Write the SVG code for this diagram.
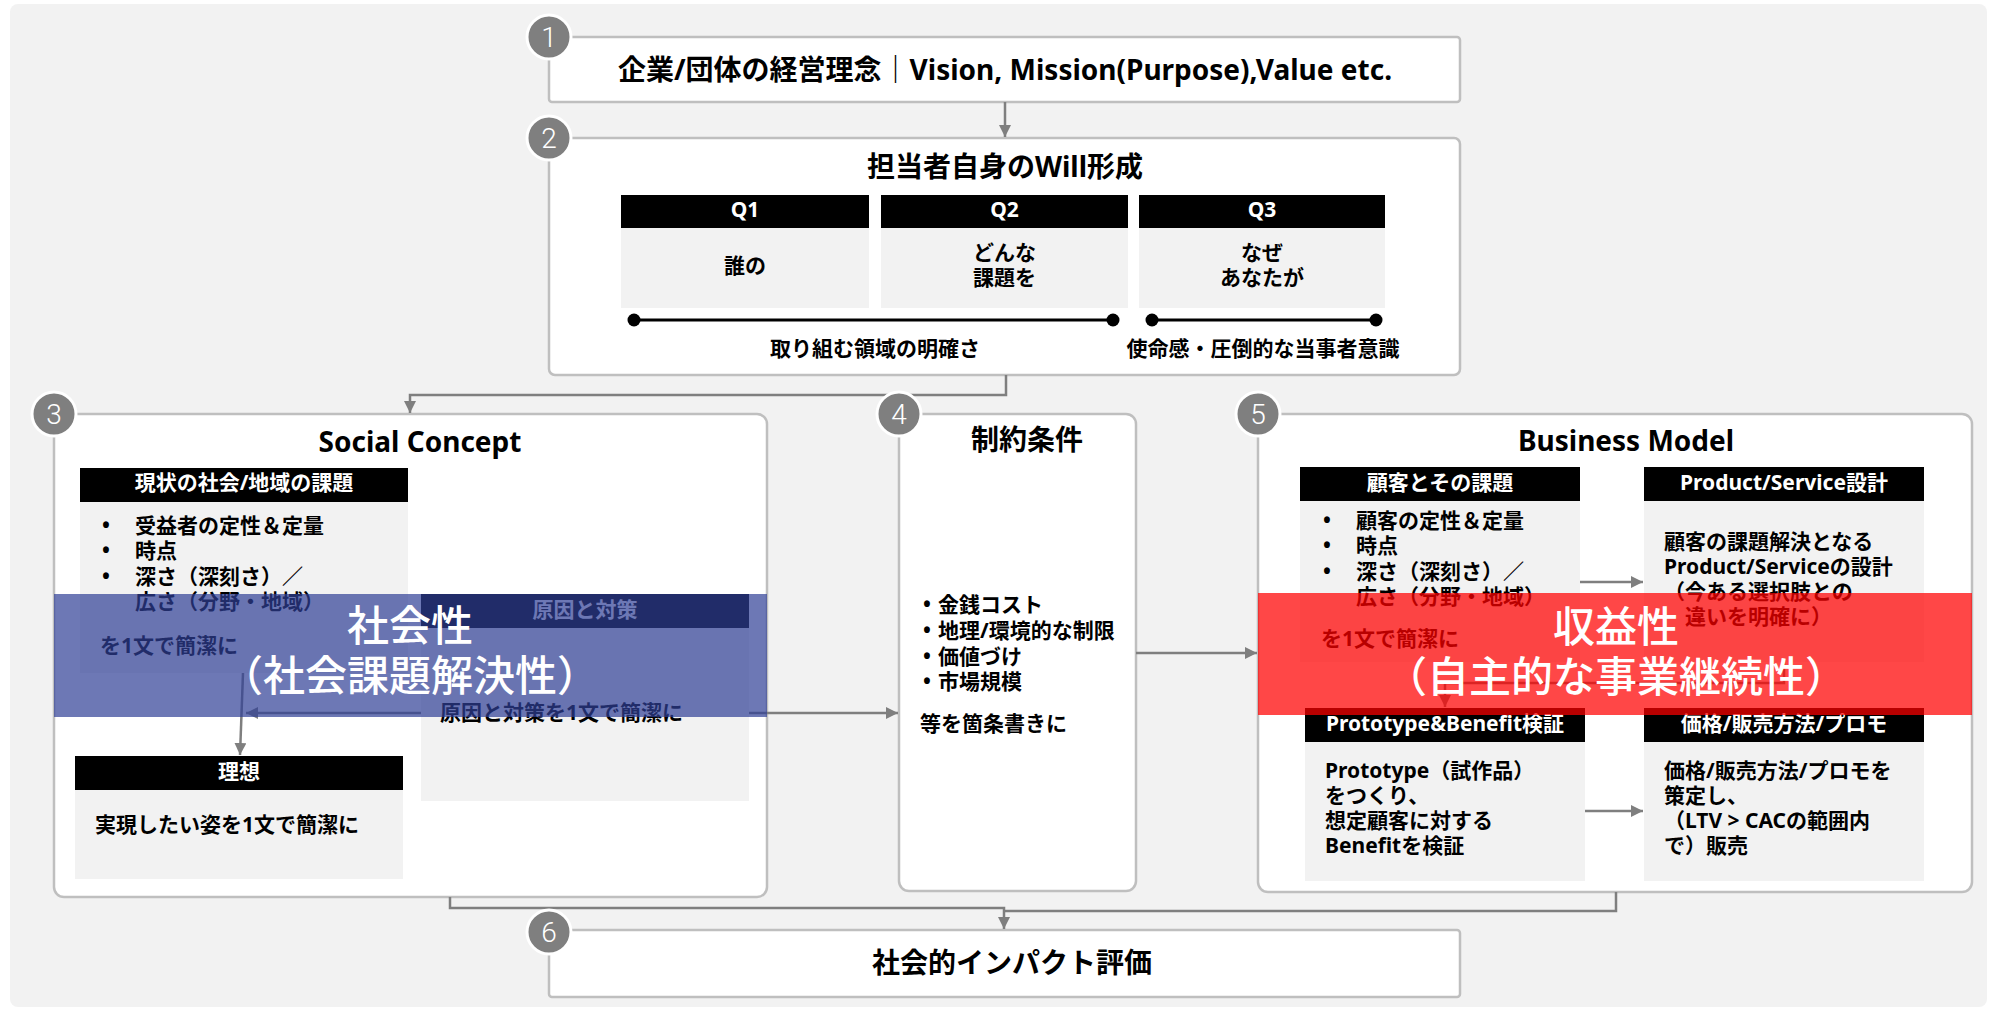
<svg xmlns="http://www.w3.org/2000/svg" width="1997" height="1013" viewBox="0 0 1997 1013">
<defs>
<style>
text{font-family:"Noto Sans","Noto Sans CJK JP",sans-serif;font-weight:700;fill:#000}
.box{fill:#fff;stroke:#bfbfbf;stroke-width:2.5}
.hdr{fill:#000}
.hdrt{fill:#fff;font-size:21px;text-anchor:middle}
.body{fill:#f2f2f2}
.t21{font-size:21px}
.title{font-size:28px;text-anchor:middle}
.mid{text-anchor:middle}
.conn{fill:none;stroke:#7f7f7f;stroke-width:2.5}
.badge circle{fill:#7f7f7f;stroke:#fff;stroke-width:3}
.badge text{font-family:Roboto,"Noto Sans",sans-serif;font-weight:300;font-size:28px;fill:#fff;text-anchor:middle}
.ov{fill:#fff;font-size:42px;text-anchor:middle;font-weight:500}
</style>
<marker id="ah" markerWidth="12" markerHeight="12" refX="12" refY="6" orient="auto" markerUnits="userSpaceOnUse">
<path d="M0,0 L12,6 L0,12 z" fill="#7f7f7f"/>
</marker>
</defs>
<rect width="1997" height="1013" fill="#fff"/>
<rect x="10" y="4" width="1977" height="1003" rx="8" fill="#f2f2f2"/>

<g id="node1">
<rect class="box" x="549" y="37" width="911" height="65" rx="3"/>
<text x="1005" y="80" font-size="28" class="mid">企業/団体の経営理念｜Vision, Mission(Purpose),Value etc.</text>
</g>

<g id="node2">
<rect class="box" x="549" y="138" width="911" height="237" rx="6"/>
<text x="1005" y="177" class="title">担当者自身のWill形成</text>
<rect class="hdr" x="621" y="195" width="248" height="33"/>
<rect class="hdr" x="881" y="195" width="247" height="33"/>
<rect class="hdr" x="1139" y="195" width="246" height="33"/>
<text class="hdrt" x="745" y="217">Q1</text>
<text class="hdrt" x="1004.5" y="217">Q2</text>
<text class="hdrt" x="1262" y="217">Q3</text>
<rect class="body" x="621" y="228" width="248" height="80"/>
<rect class="body" x="881" y="228" width="247" height="80"/>
<rect class="body" x="1139" y="228" width="246" height="80"/>
<text class="t21 mid" x="745" y="272.5">誰の</text>
<text class="t21 mid" x="1004.5" y="260">どんな</text>
<text class="t21 mid" x="1004.5" y="284.5">課題を</text>
<text class="t21 mid" x="1262" y="260">なぜ</text>
<text class="t21 mid" x="1262" y="284.5">あなたが</text>
<line x1="634" y1="320" x2="1113" y2="320" stroke="#000" stroke-width="3"/>
<circle cx="634" cy="320" r="6.5"/>
<circle cx="1113" cy="320" r="6.5"/>
<line x1="1152" y1="320" x2="1376" y2="320" stroke="#000" stroke-width="3"/>
<circle cx="1152" cy="320" r="6.5"/>
<circle cx="1376" cy="320" r="6.5"/>
<text class="t21 mid" x="875" y="355.5">取り組む領域の明確さ</text>
<text class="t21 mid" x="1263" y="355.5">使命感・圧倒的な当事者意識</text>
</g>

<g id="node3">
<rect class="box" x="54" y="414" width="713" height="483" rx="10"/>
<text x="420" y="452" class="title">Social Concept</text>
<g id="node3-genjo">
<rect class="hdr" x="80" y="468" width="328" height="34"/>
<text class="hdrt" x="244" y="490">現状の社会/地域の課題</text>
<rect class="body" x="80" y="502" width="328" height="171"/>
<text class="t21"><tspan x="102" y="532.5">•</tspan><tspan x="135" y="532.5">受益者の定性＆定量</tspan><tspan x="102" y="558">•</tspan><tspan x="135" y="558">時点</tspan><tspan x="102" y="583.5">•</tspan><tspan x="135" y="583.5">深さ（深刻さ）／</tspan><tspan x="135" y="609">広さ（分野・地域）</tspan><tspan x="100" y="652.5">を1文で簡潔に</tspan></text>
</g>
<g id="node3-genin">
<rect class="hdr" x="421" y="594" width="328" height="34"/>
<text class="hdrt" x="585" y="616.5">原因と対策</text>
<rect class="body" x="421" y="628" width="328" height="173"/>
<text class="t21" x="440" y="720">原因と対策を1文で簡潔に</text>
</g>
<g id="node3-riso">
<rect class="hdr" x="75" y="756" width="328" height="34"/>
<text class="hdrt" x="239" y="778.5">理想</text>
<rect class="body" x="75" y="790" width="328" height="89"/>
<text class="t21" x="95" y="832">実現したい姿を1文で簡潔に</text>
</g>
</g>

<g id="node4">
<rect class="box" x="899" y="414" width="237" height="477" rx="10"/>
<text x="1027" y="450" class="title">制約条件</text>
<text class="t21"><tspan x="923" y="611.5">•</tspan><tspan x="938" y="611.5">金銭コスト</tspan><tspan x="923" y="637.5">•</tspan><tspan x="938" y="637.5">地理/環境的な制限</tspan><tspan x="923" y="663.5">•</tspan><tspan x="938" y="663.5">価値づけ</tspan><tspan x="923" y="688.5">•</tspan><tspan x="938" y="688.5">市場規模</tspan><tspan x="920" y="730.5">等を箇条書きに</tspan></text>
</g>

<g id="node5">
<rect class="box" x="1258" y="414" width="714" height="478" rx="10"/>
<text x="1626" y="451" class="title">Business Model</text>
<g id="node5-kokyaku">
<rect class="hdr" x="1300" y="467" width="280" height="34"/>
<text class="hdrt" x="1440" y="489.5">顧客とその課題</text>
<rect class="body" x="1300" y="501" width="280" height="161"/>
<text class="t21"><tspan x="1323" y="527.5">•</tspan><tspan x="1356" y="527.5">顧客の定性＆定量</tspan><tspan x="1323" y="552.5">•</tspan><tspan x="1356" y="552.5">時点</tspan><tspan x="1323" y="578.5">•</tspan><tspan x="1356" y="578.5">深さ（深刻さ）／</tspan><tspan x="1356" y="603.5">広さ（分野・地域）</tspan><tspan x="1321" y="645.5">を1文で簡潔に</tspan></text>
</g>
<g id="node5-product">
<rect class="hdr" x="1644" y="467" width="280" height="34"/>
<text class="hdrt" x="1784" y="489.5">Product/Service設計</text>
<rect class="body" x="1644" y="501" width="280" height="161"/>
<text class="t21"><tspan x="1664" y="548.5">顧客の課題解決となる</tspan><tspan x="1664" y="573.5">Product/Serviceの設計</tspan><tspan x="1664" y="598.5">（今ある選択肢との</tspan><tspan x="1685" y="623.5">違いを明確に）</tspan></text>
</g>
<g id="node5-proto">
<rect class="hdr" x="1305" y="708" width="280" height="34"/>
<text class="hdrt" x="1445" y="730.5">Prototype&amp;Benefit検証</text>
<rect class="body" x="1305" y="742" width="280" height="139"/>
<text class="t21"><tspan x="1325" y="777.5">Prototype（試作品）</tspan><tspan x="1325" y="802.5">をつくり、</tspan><tspan x="1325" y="827.5">想定顧客に対する</tspan><tspan x="1325" y="852.5">Benefitを検証</tspan></text>
</g>
<g id="node5-price">
<rect class="hdr" x="1644" y="708" width="280" height="34"/>
<text class="hdrt" x="1784" y="730.5">価格/販売方法/プロモ</text>
<rect class="body" x="1644" y="742" width="280" height="139"/>
<text class="t21"><tspan x="1664" y="777.5">価格/販売方法/プロモを</tspan><tspan x="1664" y="802.5">策定し、</tspan><tspan x="1664" y="827.5">（LTV &gt; CACの範囲内</tspan><tspan x="1664" y="852.5">で）販売</tspan></text>
</g>
</g>

<g id="node6">
<rect class="box" x="549" y="930" width="911" height="67" rx="3"/>
<text x="1012" y="973" class="title">社会的インパクト評価</text>
</g>

<g id="connectors">
<path class="conn" d="M1005,102 V137" marker-end="url(#ah)"/>
<path class="conn" d="M1006,375 V395 H410 V413" marker-end="url(#ah)"/>
<path class="conn" d="M749,713 H898" marker-end="url(#ah)"/>
<path class="conn" d="M421,713 H246" marker-end="url(#ah)"/>
<path class="conn" d="M243,673 L240,755" marker-end="url(#ah)"/>
<path class="conn" d="M1136,653 H1257" marker-end="url(#ah)"/>
<path class="conn" d="M1580,582 H1643" marker-end="url(#ah)"/>
<path class="conn" d="M1784,662 V683 H1445 V707" marker-end="url(#ah)"/>
<path class="conn" d="M1585,811 H1643" marker-end="url(#ah)"/>
<path class="conn" d="M450,897 V908 H1004 V929" marker-end="url(#ah)"/>
<path class="conn" d="M1616,892 V911 H1004"/>
</g>

<g id="overlays">
<g id="overlay-social">
<rect x="54" y="594" width="713" height="123" fill="rgb(47,62,150)" fill-opacity="0.7"/>
<text class="ov" x="410" y="641">社会性</text>
<text class="ov" x="410" y="691">（社会課題解決性）</text>
</g>
<g id="overlay-profit">
<rect x="1258" y="593" width="714" height="122" fill="rgb(255,0,0)" fill-opacity="0.72"/>
<text class="ov" x="1616" y="642">収益性</text>
<text class="ov" x="1616" y="692">（自主的な事業継続性）</text>
</g>
</g>

<g id="badges">
<g id="badge1" class="badge"><circle cx="549" cy="37" r="22"/><text x="549" y="47">1</text></g>
<g id="badge2" class="badge"><circle cx="549" cy="138" r="22"/><text x="549" y="148">2</text></g>
<g id="badge3" class="badge"><circle cx="54" cy="414" r="22"/><text x="54" y="424">3</text></g>
<g id="badge4" class="badge"><circle cx="899" cy="414" r="22"/><text x="899" y="424">4</text></g>
<g id="badge5" class="badge"><circle cx="1258" cy="414" r="22"/><text x="1258" y="424">5</text></g>
<g id="badge6" class="badge"><circle cx="549" cy="932" r="22"/><text x="549" y="942">6</text></g>
</g>
</svg>
